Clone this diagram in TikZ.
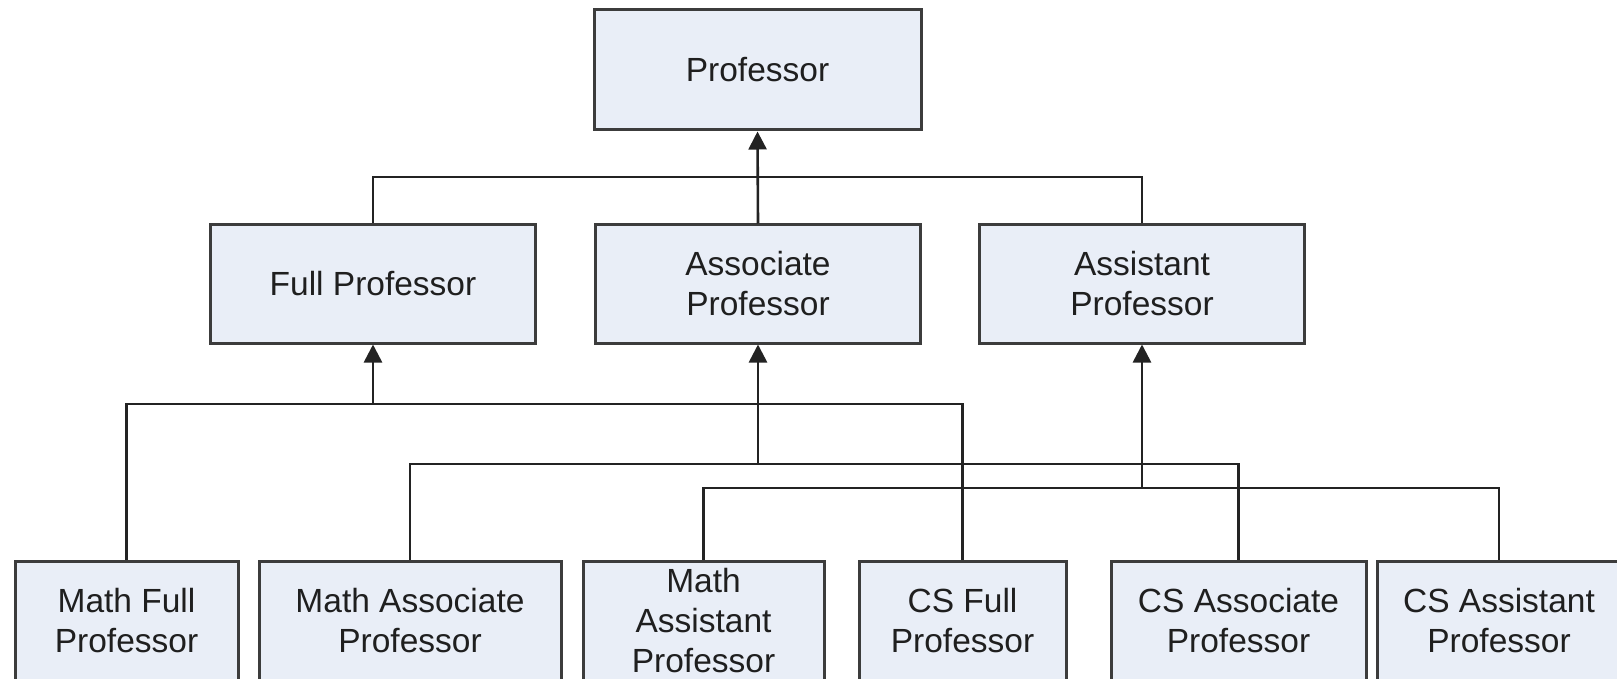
\documentclass[tikz,border=0pt]{standalone}
\usepackage{fontspec}
\setmainfont{Liberation Sans}
\usetikzlibrary{arrows.meta}
\definecolor{boxfill}{RGB}{233,238,247}
\definecolor{boxline}{RGB}{60,60,60}
\definecolor{wire}{RGB}{35,35,35}
\tikzset{
  classbox/.style={draw=boxline, line width=3pt, fill=boxfill, inner sep=0pt,
    align=center, font=\fontsize{33.5}{40}\selectfont, text=black!88},
  midbox/.style={classbox, minimum width=325pt, minimum height=118pt},
  leafbox/.style={classbox, minimum height=120pt},
  wireline/.style={draw=wire, line width=2.6pt},
  upstream/.style={wireline, -{Triangle[length=18pt,width=18pt]}}
}
\begin{document}
\begin{tikzpicture}[x=1pt,y=-1pt]
\useasboundingbox (0,0) rectangle (1617,679);
\clip (0,0) rectangle (1617,679);

% top class
\node[classbox, minimum width=327pt, minimum height=120pt] (prof) at (757.5,70) {Professor};

% middle level
\node[midbox] (full)   at (373,284)  {Full Professor};
\node[midbox] (assoc)  at (758,284)  {Associate\\Professor};
\node[midbox] (assist) at (1142,284) {Assistant\\Professor};

% leaf level
\node[leafbox, minimum width=223pt] (mfull)   at (126.5,621) {Math Full\\Professor};
\node[leafbox, minimum width=302pt] (massoc)  at (410,621)   {Math Associate\\Professor};
\node[leafbox, minimum width=241pt] (massist) at (703.5,621) {Math\\Assistant\\Professor};
\node[leafbox, minimum width=207pt] (cfull)   at (962.5,621) {CS Full\\Professor};
\node[leafbox, minimum width=255pt] (cassoc)  at (1238.5,621){CS Associate\\Professor};
\node[leafbox, minimum width=244pt] (cassist) at (1499,621)  {CS Assistant\\Professor};

% bus junctions
\coordinate (jtop)    at (758,177);
\coordinate (jfull)   at (373,404);
\coordinate (jassoc)  at (758,464);
\coordinate (jassist) at (1142,488);

% middle level to Professor
\draw[wireline] (full.north) |- (jtop);
\draw[wireline] (assist.north) |- (jtop);
\draw[upstream] (assoc.north) -- (prof.south);

% Full Professor bus
\draw[wireline] (mfull.north) |- (jfull);
\draw[wireline] (cfull.north) |- (jfull);
\draw[upstream] (jfull) -- (full.south);

% Associate Professor bus
\draw[wireline] (massoc.north) |- (jassoc);
\draw[wireline] (cassoc.north) |- (jassoc);
\draw[upstream] (jassoc) -- (assoc.south);

% Assistant Professor bus
\draw[wireline] (massist.north) |- (jassist);
\draw[wireline] (cassist.north) |- (jassist);
\draw[upstream] (jassist) -- (assist.south);
\end{tikzpicture}
\end{document}
